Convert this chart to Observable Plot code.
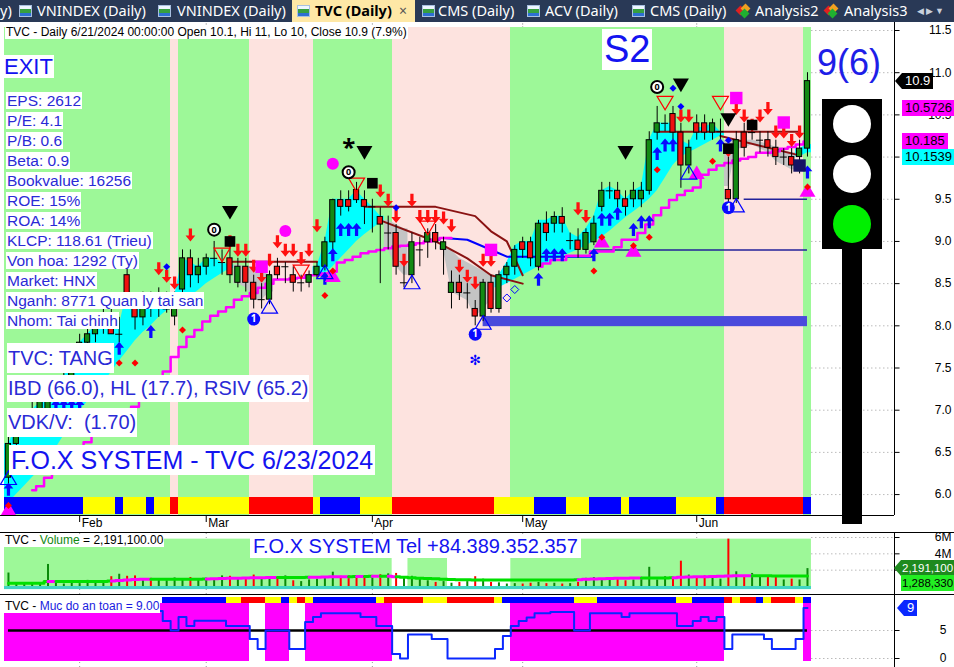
<!DOCTYPE html>
<html>
<head>
<meta charset="utf-8">
<script src="https://cdn.jsdelivr.net/npm/d3@7"></script>
<script src="https://cdn.jsdelivr.net/npm/@observablehq/plot@0.6"></script>
<style>
  html,body{margin:0;padding:0;}
  body{width:954px;height:667px;overflow:hidden;background:#fff;position:relative;font-family:"Liberation Sans",Arial,sans-serif;}
  .a{position:absolute;white-space:nowrap;}
  .info{position:absolute;white-space:nowrap;background:#fff;color:#2a2ad6;font-size:15.5px;line-height:17px;padding:0 1px;}
  #tabs{position:absolute;left:0;top:0;width:954px;height:22px;background:#293956;overflow:hidden;font-family:"Noto Sans",sans-serif;font-size:14.5px;color:#fff;}
  #tabs .t{position:absolute;top:0;line-height:21px;white-space:nowrap;}
  .ic{position:absolute;top:5px;width:13px;height:12px;background:linear-gradient(180deg,#eef6ff 0 35%,#37a040 35% 70%,#2d6fd2 70%);border:1px solid #a8c0e0;box-sizing:border-box;}
  .hz{position:absolute;top:5px;width:15px;height:12px;}
  .hz i{position:absolute;width:7px;height:7px;transform:rotate(45deg);}
  .plot{position:absolute;left:0;}
  .plot svg{display:block;}
  .line{position:absolute;background:#000;}
</style>
</head>
<body>
<div id="tabs">
  <span class="t" style="left:0">y)</span>
  <div class="ic" style="left:19px"></div><span class="t" style="left:37px">VNINDEX (Daily)</span>
  <div class="ic" style="left:158px"></div><span class="t" style="left:177px">VNINDEX (Daily)</span>
  <div style="position:absolute;left:292px;top:0;width:123px;height:22px;background:#fee8a6"></div>
  <div class="ic" style="left:297px"></div><span class="t" style="left:315px;color:#000;font-weight:bold">TVC (Daily)</span>
  <span class="t" style="left:399px;color:#555;font-size:14px">×</span>
  <div class="ic" style="left:422px"></div><span class="t" style="left:438px">CMS (Daily)</span>
  <div class="ic" style="left:527px"></div><span class="t" style="left:545px">ACV (Daily)</span>
  <div class="ic" style="left:632px"></div><span class="t" style="left:650px">CMS (Daily)</span>
  <div class="hz" style="left:737px"><i style="left:0;top:2px;background:#e02020"></i><i style="left:5px;top:0;background:#f0a020"></i><i style="left:4px;top:5px;background:#20b030"></i></div><span class="t" style="left:755px">Analysis2</span>
  <div class="hz" style="left:825px"><i style="left:0;top:2px;background:#e02020"></i><i style="left:5px;top:0;background:#f0a020"></i><i style="left:4px;top:5px;background:#20b030"></i></div><span class="t" style="left:844px">Analysis3</span>
  <span class="t" style="left:917px;color:#c8d0dc;font-size:9px;letter-spacing:2px">◀▶▼</span>
</div>
<div id="main" class="plot" style="top:22px"></div>
<div id="vol" class="plot" style="top:533px"></div>
<div id="safe" class="plot" style="top:595px"></div>
<script>
// ---------------- DATA ----------------
const open = [
 6.2,6.6,6.8,6.9,7.0,7.0,7.2,7.3,7.4,7.6,
 7.8,7.9,8.0,8.1,7.9,8.6,8.2,8.1,8.3,8.2,
 8.2,8.11,8.43,8.8,8.6,8.7,8.8,8.75,8.8,8.51,
 8.7,8.51,8.31,8.31,8.7,8.7,8.6,8.51,8.51,8.6,
 8.7,8.99,9.49,9.49,9.61,9.49,9.41,9.29,9.1,9.1,
 8.51,8.6,8.9,8.99,9.1,8.9,8.39,8.51,8.39,8.2,
 8.11,8.51,8.2,8.6,8.7,8.99,8.99,8.7,9.21,9.21,
 9.29,9.01,9.01,8.9,8.99,9.41,9.6,9.6,9.5,9.5,
 9.5,9.6,10.29,10.4,10.51,10.29,9.9,10.4,10.4,10.29,
 10.3,9.61,9.5,10.29,10.29,10.2,10.2,10.11,10.0,10.0,
 10.0,10.1];
const high = [
 6.7,6.9,7.0,7.1,7.2,7.3,7.4,7.5,7.7,7.9,
 8.0,8.1,8.2,8.3,8.1,8.7,8.25,8.4,8.4,8.45,
 8.4,8.4,8.9,8.9,8.8,8.85,9.0,8.9,8.95,8.8,
 8.8,8.6,8.5,8.65,8.8,8.75,8.7,8.6,8.65,8.75,
 9.05,9.5,9.6,9.6,9.7,9.6,9.5,9.4,9.3,9.2,
 8.8,9.1,9.05,9.15,9.2,9.05,8.65,8.6,8.5,8.3,
 8.55,8.6,8.65,8.75,8.95,9.05,9.05,9.25,9.35,9.35,
 9.4,9.1,9.15,9.15,9.3,9.7,9.7,9.7,9.6,9.7,
 9.7,10.3,10.6,10.5,10.6,10.4,10.2,10.5,10.5,10.45,
 10.45,10.0,10.3,10.4,10.35,10.3,10.3,10.2,10.1,10.1,
 10.2,11.0];
const low = [
 6.1,6.5,6.7,6.8,6.9,6.9,7.1,7.2,7.3,7.5,
 7.7,7.8,7.9,7.9,7.8,8.2,7.95,8.0,8.1,8.1,
 8.15,8.0,8.35,8.45,8.5,8.6,8.7,8.6,8.5,8.45,
 8.4,8.2,8.2,8.25,8.55,8.5,8.4,8.4,8.45,8.55,
 8.65,8.9,9.3,9.35,9.45,9.2,9.1,8.5,8.9,8.6,
 8.45,8.5,8.7,8.8,8.9,8.6,8.2,8.3,8.2,8.0,
 8.05,8.15,8.15,8.5,8.6,8.8,8.7,8.65,9.0,9.1,
 9.1,8.9,8.8,8.85,8.95,9.35,9.5,9.4,9.3,9.4,
 9.4,9.55,10.2,10.3,10.2,9.63,9.8,10.2,10.2,10.2,
 10.2,9.45,9.45,10.0,10.2,10.05,10.0,9.9,9.9,9.8,
 9.8,10.0];
const close = [
 6.6,6.8,6.9,7.0,7.1,7.2,7.3,7.4,7.6,7.8,
 7.9,8.0,8.1,7.9,7.9,8.2,8.1,8.3,8.2,8.3,
 8.2,8.31,8.8,8.6,8.7,8.8,8.8,8.75,8.6,8.7,
 8.51,8.31,8.31,8.6,8.6,8.7,8.51,8.51,8.6,8.7,
 8.99,9.49,9.41,9.41,9.49,9.41,9.41,9.2,9.1,8.7,
 8.51,8.99,8.9,9.1,8.99,8.99,8.51,8.39,8.39,8.11,
 8.51,8.2,8.6,8.7,8.9,8.9,8.8,9.21,9.1,9.29,
 9.21,9.01,8.9,9.1,9.21,9.6,9.6,9.5,9.41,9.6,
 9.6,10.2,10.4,10.4,10.29,9.9,10.11,10.29,10.29,10.4,
 10.3,9.5,10.2,10.11,10.29,10.2,10.11,10.0,10.0,9.9,
 10.1,10.9];
// volume in millions
const volume = [
 1.65,0.35,0.30,0.40,0.35,2.70,0.40,0.30,0.45,0.35,
 0.75,0.50,0.60,1.20,1.50,1.25,1.30,0.90,1.00,0.80,
 0.70,1.05,0.90,1.10,0.80,1.00,0.85,1.30,1.25,1.10,
 0.90,1.40,1.00,0.90,1.05,1.30,0.70,0.60,0.80,0.90,
 1.00,1.75,1.25,1.30,1.05,1.30,1.00,1.45,1.55,1.60,
 1.10,1.25,0.90,0.70,0.50,0.60,0.40,0.50,0.60,1.20,
 0.90,0.50,0.45,0.30,0.35,0.30,0.40,0.50,0.35,0.40,
 0.30,0.35,0.50,1.00,1.10,0.80,1.10,0.90,0.70,0.80,
 1.00,2.35,0.80,1.20,0.90,3.10,1.40,1.10,1.30,1.20,
 0.90,5.80,1.80,1.30,1.60,1.20,1.20,1.10,0.80,0.90,
 0.80,2.1911];
const volMA = [
 0.40,0.40,0.40,0.40,0.40,0.62,0.62,0.62,0.62,0.62,
 0.62,0.62,0.62,0.68,0.74,0.80,0.86,0.90,0.90,0.90,
 0.90,0.90,0.90,0.90,0.90,0.92,0.95,0.98,1.00,1.02,
 1.04,1.06,1.08,1.10,1.10,1.10,1.10,1.10,1.12,1.14,
 1.16,1.18,1.20,1.20,1.22,1.22,1.24,1.24,1.26,1.20,
 1.14,1.08,1.02,0.98,0.94,0.90,0.86,0.84,0.82,0.80,
 0.80,0.80,0.80,0.80,0.80,0.80,0.80,0.80,0.80,0.80,
 0.80,0.80,0.84,0.88,0.92,0.95,0.98,1.00,1.02,1.04,
 1.04,1.04,1.04,1.04,1.08,1.12,1.15,1.18,1.20,1.22,
 1.24,1.29,1.32,1.33,1.33,1.33,1.31,1.30,1.30,1.29,
 1.29,1.288];
// "Muc do an toan" (safety level)
const safety = [
 null,null,null,null,null,null,null,null,null,null,
 null,null,null,null,null,null,null,null,null,8.5,
 6.7,5.0,7.4,5.8,6.75,6.75,6.75,6.75,5.8,5.8,
 5.8,3.5,1.7,5.0,5.0,5.0,1.7,1.7,6.5,7.4,
 8.1,8.1,8.1,8.1,8.1,7.4,7.4,5.8,5.8,0.8,
 0,4.3,4.3,4.3,3.5,3.5,0,0,0,0,
 0,0,1.7,4.0,5.8,6.7,7.3,8.1,8.1,8.3,
 8.3,8.3,5.0,5.0,8.1,8.1,8.1,8.1,7.4,8.1,
 8.1,8.1,8.1,8.1,8.1,5.8,5.8,6.7,7.4,6.7,
 7.4,1.7,4.3,4.3,4.3,4.3,3.5,1.7,1.7,1.7,
 3.5,9];
// cyan / gray trend-cloud bounds
const fillLo = [
 5.9,6.0,6.1,6.2,6.3,6.4,6.55,6.7,6.85,7.0,
 7.1,7.2,7.32,7.45,7.58,7.7,7.82,7.92,8.0,8.1,
 8.18,8.22,8.28,8.35,8.42,8.5,8.56,8.62,8.68,8.5,
 8.45,8.3,8.3,8.4,null,null,null,null,null,8.6,
 8.62,8.7,8.8,8.9,9.0,9.08,9.15,9.22,8.9,8.7,
 8.6,null,null,null,null,8.9,8.4,8.35,8.3,8.1,
 8.2,8.3,8.45,8.5,8.55,8.6,8.65,8.7,8.74,8.78,
 8.82,8.86,8.9,8.95,9.0,9.05,9.12,9.2,9.28,9.35,
 9.42,9.5,9.6,9.75,9.9,10.0,10.05,10.1,10.15,10.2,
 10.25,9.65,10.1,10.1,10.15,10.1,10.05,9.95,9.9,9.85,
 10.0,10.05];
const fillHi = [
 6.6,6.8,6.9,7.0,7.1,7.15,7.3,7.4,7.6,7.8,
 7.9,8.0,8.1,8.0,8.0,8.4,8.2,8.3,8.3,8.3,
 8.3,8.35,8.8,8.75,8.7,8.8,8.8,8.75,8.72,8.72,
 8.7,8.7,8.65,8.6,null,null,null,null,null,8.7,
 9.0,9.5,9.5,9.5,9.6,9.5,9.41,9.3,9.25,9.2,
 9.15,null,null,null,null,8.95,8.9,8.8,8.75,8.7,
 8.65,8.6,8.6,8.75,8.95,9.0,9.0,9.25,9.25,9.3,
 9.3,9.1,9.05,9.15,9.3,9.6,9.65,9.6,9.5,9.6,
 9.65,10.2,10.4,10.4,10.4,10.2,10.15,10.35,10.35,10.4,
 10.3,10.2,10.2,10.2,10.2,10.18,10.15,10.12,10.08,10.05,
 10.1,10.15];
const fillRuns = [[0,28,"up"],[29,33,"down"],[39,47,"up"],[48,50,"down"],[55,61,"down"],[62,90,"up"],[91,99,"down"],[100,101,"up"]];
// background trend bands, bottom colour strips, panels
const trendRuns = [[0,20,"buy"],[21,21,"sell"],[22,30,"buy"],[31,38,"sell"],[39,48,"buy"],[49,63,"sell"],[64,90,"buy"],[91,100,"sell"],[101,101,"buy"]];
const stripRuns = [[0,9,"B"],[10,13,"Y"],[14,14,"B"],[15,17,"Y"],[18,18,"B"],[19,20,"Y"],[21,21,"R"],[22,30,"Y"],[31,38,"R"],[39,39,"Y"],[40,44,"B"],[45,48,"Y"],[49,61,"R"],[62,66,"Y"],[67,70,"B"],[71,73,"Y"],[74,77,"B"],[78,78,"Y"],[79,84,"B"],[85,89,"Y"],[90,90,"B"],[91,100,"R"],[101,101,"B"]];
const strip2Runs = [[20,27,"B"],[28,29,"Y"],[30,32,"R"],[33,34,"Y"],[35,35,"B"],[36,36,"Y"],[37,37,"R"],[38,38,"Y"],[39,46,"B"],[47,47,"Y"],[48,52,"R"],[53,55,"Y"],[56,61,"R"],[62,62,"Y"],[63,71,"B"],[72,74,"Y"],[75,84,"B"],[85,86,"Y"],[87,90,"B"],[91,91,"R"],[92,92,"Y"],[93,94,"R"],[95,95,"B"],[96,96,"Y"],[97,99,"R"],[100,100,"Y"],[101,101,"B"]];
const safeRuns = [[0,30],[33,35],[38,48],[64,90],[101,101]];
const volGreenRuns = [[0,48],[51,55],[64,101]];
// indicator lines: [segment, bar, price]
const magentaA = [ // bars 3..56
 6.05,6.1,6.2,6.3,6.35,6.45,6.55,6.62,6.7,6.8,
 6.87,6.95,7.0,7.04,7.15,7.25,7.35,7.46,7.63,7.75,
 7.87,7.95,8.05,8.12,8.17,8.22,8.31,8.35,8.39,8.45,
 8.5,8.55,8.55,8.56,8.57,8.6,8.6,8.62,8.64,8.75,
 8.78,8.82,8.86,8.88,8.9,8.92,8.94,8.95,8.96,8.98,
 9.0,9.02,9.04,9.04];
const magentaB = [ // bars 67..101
 8.7,8.74,8.78,8.78,8.83,8.83,8.83,8.88,
 8.88,8.88,8.93,9.02,9.02,9.1,9.2,9.31,9.4,9.49,
 9.55,9.6,9.64,9.79,9.85,9.9,9.93,9.96,9.98,10.0,
 10.05,10.05,10.07,10.1,10.12,10.15,10.185];
const brownPts = [[1,28,8.76],[1,39,8.76],
 [2,45,9.41],[2,54,9.41],[2,59,9.30],[2,61,9.12],[2,63,9.0],[2,65,8.6],
 [3,47,9.25],[3,54,9.0],[3,58,8.8],[3,61,8.6],[3,65,8.5],
 [4,82,10.30],[4,100,10.30],
 [5,90,10.25],[5,100,10.02]];
const bluePts = [[55,9.04],[58,9.02],[62,8.86],[63,8.82],[74,8.82]];
const levels = [[74,101,8.9],[93,101,9.5]];
const supportBox = [[60,101,7.99,8.11]];
// signal markers [bar, price]
const redArrows = [[19,8.6],[20,8.51],[21,8.43],[23,9.0],[28,8.92],[29,8.82],[30,8.82],[31,8.63],[32,8.51],[33,8.70],[34,8.92],[35,8.82],[36,8.82],[37,8.72],[38,8.82],[39,9.11],[47,9.52],[48,9.41],[49,9.22],[50,8.70],[51,9.41],[52,9.22],[53,9.22],[54,9.22],[55,9.2],[56,9.11],[57,8.63],[58,8.51],[59,8.43],[60,8.70],[61,8.70],[72,9.31],[73,9.22],[85,10.41],[86,10.41],[91,10.0],[92,10.5],[93,10.41],[94,10.3],[95,10.41],[96,10.5],[97,10.22],[98,10.22],[99,10.12],[100,10.22]];
const blueArrows = [[0,6.14],[6,7.13],[7,7.13],[8,7.13],[9,7.13],[14,7.81],[18,8.01],[40,8.64],[41,8.92],[42,9.22],[43,9.22],[44,9.22],[67,8.63],[68,8.92],[69,8.92],[70,8.92],[74,8.92],[75,9.34],[76,9.34],[77,9.41],[79,9.22],[80,9.31],[81,9.31],[82,10.12],[83,10.22],[84,10.22],[90,10.22],[101,9.9]];
const magentaTris = [[0,5.83],[41,8.6],[75,9.01],[79,8.9],[87,9.82],[101,9.61]];
const redDots = [[0,5.87],[14,7.56],[16,7.56],[22,7.95],[40,8.36],[41,8.65],[74,8.65],[75,9.05],[79,8.95],[81,9.05],[82,9.85],[89,9.95],[101,9.645]];
const blueDots = [[20,8.70],[49,9.40],[84,10.815],[85,10.6],[91,10.2]];
const blackTris = [[28,9.34],[45,10.05],[78,10.05],[85,10.85],[91,10.44]];
const blackSquares = [[28,9.0],[46,9.69],[91,10.1],[94,10.38]];
const zeroMarks = [[26,9.14],[43,9.82],[82,10.83]];
const oneMarks = [[31,8.08],[59,7.9],[91,9.40]];
const blueOutlineTris = [[0,6.2],[33,8.23],[40,8.64],[51,8.52],[60,8.04],[86,9.82],[92,9.43]];
const redOutlineTris = [[27,8.84],[37,8.64],[44,9.67],[53,9.16],[83,10.64],[90,10.64]];
const magentaCircles = [[35,9.125],[41,9.92]];
const magentaSquares = [[32,8.70],[61,8.90],[92,10.70],[98,10.41]];
const navySquares = [[100,9.9]];
const asterisks = [[43,10.165]];
const blueDiamonds = [[63,8.33],[64,8.43]];
const snowflakes = [[59,7.59]];
// axes
const monthTickBars = [9,25,46,65,87];
const monthLabels = ["Feb","Mar","Apr","May","Jun"];
const priceTicks = [6.0,6.5,7.0,7.5,8.0,8.5,9.0,9.5,10.0,10.5,11.0,11.5];
const volTicks = [6,4];
const volGrid = [2,4,6];
const safeTicks = [0,5];

// ---------------- BUILD ----------------
const GREEN = "#9df898", PINK = "#fde3df";
const stripCol = {B:"#0000ff", Y:"#ffff00", R:"#ff0000"};
const XD = [-0.5, 112], XR = [4, 894];
const PMIN = 5.752, PMAX = 11.595;
const pxY = (PMAX - PMIN) / 493; // price units per pixel
const last = open.length - 1;

const bars = open.map((o, i) => ({i, o, h: high[i], l: low[i], c: close[i], v: volume[i], ma: volMA[i], s: safety[i]}));
const pts = a => a.map(([i, p]) => ({i, p}));
const runRects = (runs, y1, y2, col) => runs.map(r => ({x1: r[0] - 0.5, x2: r[1] + 0.5, y1, y2, fill: col(r)}));

// fills
const fillRows = [];
fillRuns.forEach(([a, b, k], si) => {
  const col = k === "up" ? "#00ffff" : "#c4c4c4";
  fillRows.push({i: a - 0.5, lo: fillLo[a], hi: fillHi[a], seg: si, col});
  for (let i = a; i <= b; i++) fillRows.push({i, lo: fillLo[i], hi: fillHi[i], seg: si, col});
  fillRows.push({i: b + 0.5, lo: fillLo[b], hi: fillHi[b], seg: si, col});
});
const magRows = [
  ...magentaA.map((p, k) => ({i: 3 + k, p, seg: 0})),
  ...magentaB.map((p, k) => ({i: 67 + k, p, seg: 1}))
];
const brownRows = brownPts.map(([seg, i, p]) => ({seg, i, p}));

// custom symbols
const sym = f => ({draw(ctx, size) { f(ctx, Math.sqrt(size / Math.PI)); }});
const arrowDown = sym((c, r) => { c.moveTo(-0.25*r, -2*r); c.lineTo(0.25*r, -2*r); c.lineTo(0.25*r, -0.9*r); c.lineTo(0.75*r, -0.9*r); c.lineTo(0, 0); c.lineTo(-0.75*r, -0.9*r); c.lineTo(-0.25*r, -0.9*r); c.closePath(); });
const arrowUp = sym((c, r) => { c.moveTo(-0.25*r, 2*r); c.lineTo(0.25*r, 2*r); c.lineTo(0.25*r, 0.9*r); c.lineTo(0.75*r, 0.9*r); c.lineTo(0, 0); c.lineTo(-0.75*r, 0.9*r); c.lineTo(-0.25*r, 0.9*r); c.closePath(); });
const triDown = sym((c, r) => { c.moveTo(-r, -0.85*r); c.lineTo(r, -0.85*r); c.lineTo(0, 0.85*r); c.closePath(); });
const triUp = sym((c, r) => { c.moveTo(-r, 0.85*r); c.lineTo(r, 0.85*r); c.lineTo(0, -0.85*r); c.closePath(); });
const diamond = sym((c, r) => { c.moveTo(0, -r); c.lineTo(r, 0); c.lineTo(0, r); c.lineTo(-r, 0); c.closePath(); });

const dotsOpt = (extra) => Object.assign({x: "i", y: "p"}, extra);
const monthRows = monthTickBars.map((i, k) => ({i, label: monthLabels[k]}));

const main = Plot.plot({
  width: 954, height: 510, marginTop: 0, marginBottom: 17, marginLeft: 4, marginRight: 60,
  x: {type: "linear", domain: XD, range: XR, axis: null},
  y: {type: "linear", domain: [PMIN, PMAX], range: [493, 0], axis: null},
  color: {type: "identity"},
  style: {background: "transparent", overflow: "visible"},
  marks: [
    Plot.ruleX(monthRows, {x: "i", y1: 11.53, y2: PMAX, stroke: "#777", strokeDasharray: "1,2"}),
    Plot.rect(runRects(trendRuns, PMIN, 11.53, r => r[2] === "buy" ? GREEN : PINK), {x1: "x1", x2: "x2", y1: "y1", y2: "y2", fill: "fill", shapeRendering: "crispEdges"}),
    Plot.ruleY(priceTicks, {y: d => d, x1: 101.55, x2: 112, stroke: "#999", strokeDasharray: "1,3"}),
    Plot.areaY(fillRows, {x: "i", y1: "lo", y2: "hi", z: "seg", fill: "col", curve: "linear"}),
    Plot.rect(supportBox.map(([a, b, y1, y2]) => ({a, b, y1, y2})), {x1: "a", x2: "b", y1: "y1", y2: "y2", fill: "#4a4adc"}),
    Plot.ruleY(levels.map(([a, b, p]) => ({a, b, p})), {y: "p", x1: "a", x2: "b", stroke: "#22229a", strokeWidth: 1.5}),
    Plot.line(brownRows, {x: "i", y: "p", z: "seg", stroke: "#8a1212", strokeWidth: 2}),
    Plot.line(pts(bluePts), {x: "i", y: "p", stroke: "#0000ff", strokeWidth: 2}),
    Plot.line(magRows, {x: "i", y: "p", z: "seg", curve: "step", stroke: "#ff00ff", strokeWidth: 2.5}),
    Plot.rect(runRects(stripRuns, PMIN + 0.015, 5.97, r => stripCol[r[2]]), {x1: "x1", x2: "x2", y1: "y1", y2: "y2", fill: "fill", shapeRendering: "crispEdges"}),
    // candles
    Plot.ruleX(bars, {x: "i", y1: "l", y2: "h", stroke: "#000", strokeWidth: 1}),
    Plot.rect(bars.filter(d => d.o !== d.c), {x1: d => d.i - 0.33, x2: d => d.i + 0.33, y1: d => Math.min(d.o, d.c), y2: d => Math.max(d.o, d.c), fill: d => d.c > d.o ? "#138a13" : "#f01010", stroke: "#000", strokeWidth: 1}),
    Plot.ruleY(bars.filter(d => d.o === d.c), {y: "o", x1: d => d.i - 0.45, x2: d => d.i + 0.45, stroke: "#000", strokeWidth: 1}),
    // markers
    Plot.dot(pts(redArrows), dotsOpt({symbol: arrowDown, r: 6.5, fill: "#ff1010", stroke: "none"})),
    Plot.dot(pts(blueArrows), dotsOpt({symbol: arrowUp, r: 6.5, fill: "#0a0aff", stroke: "none"})),
    Plot.dot(pts(magentaTris), dotsOpt({symbol: triUp, r: 8, fill: "#ff00ff", stroke: "none"})),
    Plot.dot(pts(redOutlineTris), dotsOpt({symbol: triDown, r: 8, fill: "none", stroke: "#ff0000", strokeWidth: 1.2})),
    Plot.dot(pts(blueOutlineTris), dotsOpt({symbol: triUp, r: 8, fill: "none", stroke: "#0000ff", strokeWidth: 1.2})),
    Plot.dot(pts(blackTris), dotsOpt({symbol: triDown, r: 8, fill: "#000", stroke: "none"})),
    Plot.dot(pts(blackSquares), dotsOpt({symbol: "square", r: 6, fill: "#000", stroke: "none"})),
    Plot.dot(pts(magentaSquares), dotsOpt({symbol: "square", r: 7, fill: "#ff00ff", stroke: "none"})),
    Plot.dot(pts(navySquares), dotsOpt({symbol: "square", r: 7, fill: "#141464", stroke: "none"})),
    Plot.dot(pts(magentaCircles), dotsOpt({r: 6, fill: "#ff00ff", stroke: "none"})),
    Plot.dot(pts(redDots), dotsOpt({symbol: diamond, r: 3.5, fill: "#ff0000", stroke: "none"})),
    Plot.dot(pts(blueDots), dotsOpt({symbol: diamond, r: 3.5, fill: "#0000ff", stroke: "none"})),
    Plot.dot(pts(blueDiamonds), dotsOpt({symbol: diamond, r: 4, fill: "none", stroke: "#0000ff", strokeWidth: 1})),
    Plot.dot(pts(zeroMarks), dotsOpt({r: 6, fill: "#fff", stroke: "#000", strokeWidth: 2})),
    Plot.text(pts(zeroMarks), {x: "i", y: "p", text: () => "0", fontSize: 9, fontWeight: "bold", fill: "#000"}),
    Plot.dot(pts(oneMarks), dotsOpt({r: 6.5, fill: "#0a0aff", stroke: "none"})),
    Plot.text(pts(oneMarks), {x: "i", y: "p", text: () => "1", fontSize: 10, fontWeight: "bold", fill: "#fff"}),
    Plot.text(pts(asterisks), {x: "i", y: "p", text: () => "*", fontSize: 24, fontWeight: "bold", fill: "#000", dy: 5}),
    Plot.text(pts(snowflakes), {x: "i", y: "p", text: () => "✻", fontSize: 14, fill: "#0000ff", fontFamily: "DejaVu Sans"}),
    // axes
    Plot.ruleY([PMIN], {x1: -1, x2: 112, stroke: "#000"}),
    Plot.ruleX([112], {y1: PMIN, y2: PMAX, stroke: "#000"}),
    Plot.ruleY(priceTicks, {y: d => d, x1: 112, x2: 112.7, stroke: "#000"}),
    Plot.text(priceTicks, {x: 112, y: d => d, text: d => d.toFixed(1), textAnchor: "end", dx: 57, fontSize: 12, fill: "#000", fontFamily: "Liberation Sans"}),
    Plot.ruleX(monthRows, {x: "i", y1: PMIN, y2: PMIN - 7 * pxY, stroke: "#000"}),
    Plot.text(monthRows, {x: "i", y: PMIN, text: "label", textAnchor: "start", dx: 2, dy: 8, fontSize: 12, fill: "#000", fontFamily: "Liberation Sans"})
  ]
});
document.getElementById("main").appendChild(main);

// volume panel
const VD = [-0.98, 6.49];
const volRows = bars.map((d, i) => ({i, v: d.v, ma: d.ma, up: d.c >= d.o, maCol: i > 0 && d.ma > bars[i - 1].ma ? "#ff00ff" : "#00e000"}));
const vol = Plot.plot({
  width: 954, height: 61, marginTop: 0, marginBottom: 0, marginLeft: 4, marginRight: 60,
  x: {type: "linear", domain: XD, range: XR, axis: null},
  y: {type: "linear", domain: VD, range: [61, 0], axis: null},
  color: {type: "identity"},
  style: {background: "transparent", overflow: "visible"},
  marks: [
    Plot.ruleX(monthRows, {x: "i", y1: VD[0], y2: VD[1], stroke: "#999", strokeDasharray: "1,3"}),
    Plot.rect(volGreenRuns.map(([a, b]) => ({x1: a - 0.5, x2: b + 0.5})), {x1: "x1", x2: "x2", y1: -0.35, y2: 5.8, fill: GREEN}),
    Plot.ruleY(volGrid, {y: d => d, x1: 101.55, x2: 112, stroke: "#999", strokeDasharray: "1,3"}),
    Plot.rect([{a: -0.5, b: last + 0.5}], {x1: "a", x2: "b", y1: -0.38, y2: 0, fill: "#40d4c4"}),
    Plot.ruleX(volRows, {x: "i", y1: 0, y2: "v", stroke: d => d.up ? "#0a8a0a" : "#ff0000", strokeWidth: 2}),
    Plot.line(volRows, {x: "i", y: "ma", z: null, stroke: "maCol", curve: "step", strokeWidth: 3}),
    Plot.ruleX([112], {y1: VD[0], y2: VD[1], stroke: "#000"}),
    Plot.ruleY(volGrid, {y: d => d, x1: 112, x2: 112.7, stroke: "#000"}),
    Plot.text(volTicks, {x: 112, y: d => d, text: d => d + "M", textAnchor: "end", dx: 57, fontSize: 12, fill: "#000", fontFamily: "Liberation Sans"})
  ]
});
document.getElementById("vol").appendChild(vol);

// safety panel
const SD = [-1.607, 11.25];
const safe = Plot.plot({
  width: 954, height: 72, marginTop: 0, marginBottom: 0, marginLeft: 4, marginRight: 60,
  x: {type: "linear", domain: XD, range: XR, axis: null},
  y: {type: "linear", domain: SD, range: [72, 0], axis: null},
  color: {type: "identity"},
  style: {background: "transparent", overflow: "visible"},
  marks: [
    Plot.ruleX(monthRows, {x: "i", y1: SD[0], y2: 9.8, stroke: "#999", strokeDasharray: "1,3"}),
    Plot.rect(safeRuns.map(([a, b]) => ({x1: a - 0.5, x2: b + 0.5})), {x1: "x1", x2: "x2", y1: -0.55, y2: 9.8, fill: "#ff00ff", shapeRendering: "crispEdges"}),
    Plot.rect(runRects(strip2Runs, 9.8, 10.9, r => stripCol[r[2]]), {x1: "x1", x2: "x2", y1: "y1", y2: "y2", fill: "fill", shapeRendering: "crispEdges"}),
    Plot.ruleY(safeTicks, {y: d => d, x1: 101.55, x2: 112, stroke: "#999", strokeDasharray: "1,3"}),
    Plot.ruleY([5], {y: d => d, x1: 0, x2: last, stroke: "#000", strokeWidth: 2.5}),
    Plot.line(bars.filter(d => d.s != null), {x: "i", y: "s", curve: "step", stroke: "#0a28ff", strokeWidth: 2}),
    Plot.ruleX([112], {y1: SD[0], y2: SD[1], stroke: "#000"}),
    Plot.ruleY(safeTicks, {y: d => d, x1: 112, x2: 112.7, stroke: "#000"}),
    Plot.text(safeTicks, {x: 112, y: d => d, text: d => String(d), textAnchor: "end", dx: 52, fontSize: 12, fill: "#000", fontFamily: "Liberation Sans"})
  ]
});
document.getElementById("safe").appendChild(safe);

// ---------------- OVERLAYS ----------------
const body = document.body;
function el(html, css, cls) {
  const d = document.createElement("div");
  d.className = cls || "a";
  d.style.cssText = css;
  d.innerHTML = html;
  body.appendChild(d);
  return d;
}
// panel separator lines
el("", "left:0;top:532px;width:954px;height:1px", "line");
el("", "left:0;top:594px;width:954px;height:1px", "line");

// header
el("TVC - Daily 6/21/2024 00:00:00 Open 10.1, Hi 11, Lo 10, Close 10.9 (7.9%)", "left:5px;top:26px;font-size:12px;line-height:13px;background:#fff;color:#000;padding:0 1px");
el("EXIT", "left:3px;top:55px;font-size:22px;line-height:23px;background:#fff;color:#1212f0;padding:0 1px");
const infoLines = ["EPS: 2612","P/E: 4.1","P/B: 0.6","Beta: 0.9","Bookvalue: 16256","ROE: 15%","ROA: 14%","KLCP: 118.61 (Trieu)","Von hoa: 1292 (Ty)","Market: HNX","Nganh: 8771 Quan ly tai san","Nhom: Tai chinh"];
infoLines.forEach((t, k) => el(t, `left:6px;top:${92 + 20 * k}px`, "info"));
el("TVC: TANG", "left:7px;top:343px;font-size:20px;line-height:30px;background:#fff;color:#2a2ad6;padding:0 1px");
el("IBD (66.0), HL (17.7), RSIV (65.2)", "left:7px;top:375px;font-size:20px;line-height:27px;background:#fff;color:#2a2ad6;padding:0 1px");
el("VDK/V:&nbsp; (1.70)", "left:7px;top:408px;font-size:20px;line-height:29px;background:#fff;color:#2a2ad6;padding:0 1px");
el("F.O.X SYSTEM - TVC 6/23/2024", "left:9px;top:445px;font-size:25px;line-height:30px;background:#fff;color:#1414f0;padding:0 2px");
el("S2", "left:602px;top:29px;font-size:38px;line-height:41px;background:#fff;color:#1414f0;padding:0 2px");
el("9(6)", "left:817px;top:43px;font-size:36px;line-height:40px;color:#1e1ee8");

// traffic light
el("", "left:822px;top:99px;width:60px;height:150px;background:#000");
el("", "left:842px;top:249px;width:20px;height:275px;background:#000");
["#fff","#fff","#00f000"].forEach((c, k) => el("", `left:833px;top:${105 + 50 * k}px;width:38px;height:38px;border-radius:50%;background:${c}`));

// price tags via the y scale
const ys = main.scale("y");
function tag(txt, yAbs, left, bg, fg, arrow, fs) {
  const f = fs || 13;
  const d = el(txt, `left:${left}px;top:${Math.round(yAbs - 8)}px;height:16px;line-height:16px;background:${bg};color:${fg};font-size:${f}px;padding:0 ${fs ? 1 : 3}px`);
  if (arrow) {
    const t = document.createElement("div");
    t.style.cssText = `position:absolute;left:-7px;top:0;width:0;height:0;border-top:8px solid transparent;border-bottom:8px solid transparent;border-right:7px solid ${bg}`;
    d.appendChild(t);
  }
  return d;
}
tag(String(close[last]), 22 + ys.apply(close[last]), 902, "#000", "#fff", true);
tag("10.5726", 22 + ys.apply(10.5726), 902, "#ff00ff", "#000");
tag("10.185", 22 + ys.apply(10.185), 902, "#ff00ff", "#000");
tag("10.1539", 22 + ys.apply(10.1539) + 13, 902, "#00ffff", "#000");

// volume overlays
const vs = vol.scale("y");
el('TVC - <span style="color:#118811">Volume</span> = 2,191,100.00', "left:4px;top:534px;font-size:12px;line-height:13px;background:#fff;color:#000;padding:0 1px");
el("F.O.X SYSTEM Tel +84.389.352.357", "left:250px;top:535px;font-size:20px;line-height:23px;background:#fff;color:#1414f0;padding:0 3px");
tag("2,191,100", 533 + vs.apply(volume[last]), 901, "#1e8a1e", "#fff", true, 11.5);
tag("1,288,330", 533 + vs.apply(volMA[last]) + 8, 901, "#22ee22", "#000", false, 11.5);

// safety overlays
const ss = safe.scale("y");
el('TVC - <span style="color:#1a1ae0">Muc do an toan = 9.00</span>', "left:4px;top:600px;font-size:12px;line-height:13px;background:#fff;color:#000;padding:0 1px");
tag("9", 595 + ss.apply(safety[last]), 904, "#0a28ff", "#fff", true);
</script>
</body>
</html>
